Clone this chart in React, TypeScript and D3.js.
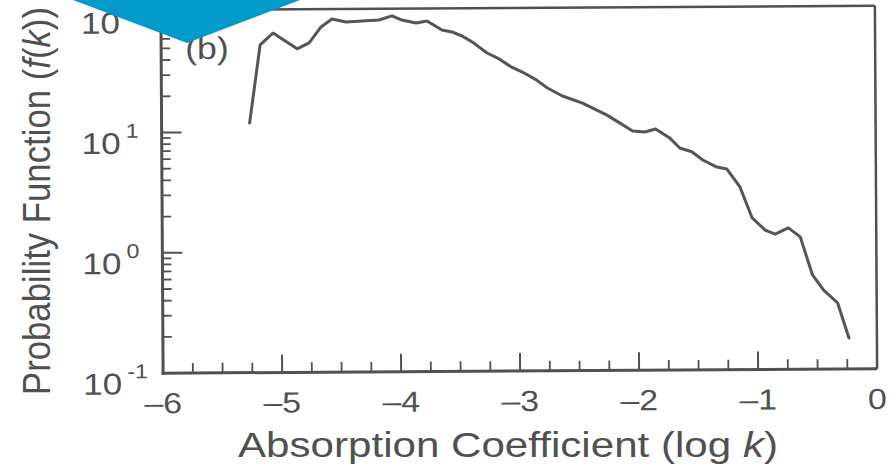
import React from "react";
import * as d3 from "d3";

const logK = [-5.26, -5.168, -5.059, -4.857, -4.756, -4.655, -4.563, -4.445, -4.168, -4.059, -3.975, -3.857, -3.765, -3.639, -3.555, -3.471, -3.387, -3.261, -3.16, -3.059, -2.966, -2.849, -2.756, -2.63, -2.462, -2.261, -2.151, -2.042, -1.941, -1.849, -1.731, -1.647, -1.546, -1.454, -1.336, -1.252, -1.143, -1.042, -0.933, -0.849, -0.739, -0.639, -0.538, -0.445, -0.328, -0.235];
const fk = [11.9, 52.8, 66.3, 48.8, 54.6, 74.0, 85.9, 81.1, 84.0, 90.6, 83.7, 78.9, 82.0, 68.9, 66.2, 61.2, 54.6, 44.1, 39.3, 33.7, 30.5, 26.2, 22.4, 19.2, 16.7, 13.3, 11.4, 9.75, 9.55, 10.1, 8.5, 7.0, 6.5, 5.55, 4.84, 4.65, 3.3, 1.82, 1.44, 1.33, 1.5, 1.26, 0.607, 0.454, 0.354, 0.181];

const xTicks = [-6, -5, -4, -3, -2, -1, 0];
const xTickLabels = ["–6", "–5", "–4", "–3", "–2", "–1", "0"];
const yTicks = [0.1, 1, 10, 100];
const yTickExps = ["-1", "0", "1", "2"];
const xTitle = "Absorption Coefficient (log ";
const yTitle = "Probability Function (";
const panelLabel = "(b)";

const W = 890;
const H = 468;
const INK = "#505050";
const FONT = "'Liberation Sans', Arial, Helvetica, sans-serif";

export default function App() {
  const x = d3.scaleLinear().domain([-6, 0]).range([162, 876]);
  const y = d3.scaleLog().domain([0.1, 100]).range([371, 10]);
  const top = 8;
  const left = x(-6);
  const right = x(0);
  const bottom = y(0.1);

  const pts = logK.map((k, i) => [k, fk[i]] as [number, number]);
  const line = d3
    .line<[number, number]>()
    .x((d) => x(d[0]))
    .y((d) => y(d[1]));

  const xMinor: number[] = [];
  for (let v = -6; v < 0; v += 0.25) {
    const r = Math.round(v * 100) / 100;
    if (Math.abs(r - Math.round(r)) > 1e-6) xMinor.push(r);
  }
  const yMinor: number[] = [];
  [0.1, 1, 10].forEach((dec) => {
    for (let m = 2; m <= 9; m++) yMinor.push(dec * m);
  });

  return (
    <svg
      width={W}
      height={H}
      style={{ position: "absolute", left: 0, top: 0, background: "#fff" }}
      fontFamily={FONT}
    >
      <rect x={0} y={0} width={W} height={H} fill="#fff" />
      <g transform="rotate(-0.35 520 190)">
        {/* frame */}
        <line x1={left} x2={right} y1={top} y2={top} stroke={INK} strokeWidth={2.5} />
        <line x1={right} x2={right} y1={top} y2={bottom} stroke={INK} strokeWidth={2.5} />
        <line x1={left} x2={left} y1={top - 1} y2={bottom + 1.5} stroke={INK} strokeWidth={3} />
        <line x1={left - 1.5} x2={right} y1={bottom} y2={bottom} stroke={INK} strokeWidth={3} />

        {/* x ticks */}
        {xTicks.slice(1, -1).map((v) => (
          <line key={"xM" + v} x1={x(v)} x2={x(v)} y1={bottom} y2={bottom - 18} stroke={INK} strokeWidth={2} />
        ))}
        {xMinor.map((v) => (
          <line key={"xm" + v} x1={x(v)} x2={x(v)} y1={bottom} y2={bottom - 10} stroke={INK} strokeWidth={1.8} />
        ))}
        {/* y ticks */}
        {yTicks.slice(1).map((v) => (
          <line key={"yM" + v} x1={left} x2={left + 20} y1={y(v)} y2={y(v)} stroke={INK} strokeWidth={2} />
        ))}
        {yMinor.map((v) => (
          <line key={"ym" + v} x1={left} x2={left + 9} y1={y(v)} y2={y(v)} stroke={INK} strokeWidth={1.8} />
        ))}

        {/* x tick labels */}
        {xTicks.map((v, i) => (
          <text
            key={"xl" + v}
            transform={`translate(${x(v)},411) scale(1.17,1)`}
            textAnchor="middle"
            fontSize={29}
            fill={INK}
          >
            {xTickLabels[i]}
          </text>
        ))}

        {/* y tick labels */}
        {yTicks.map((v, i) => (
          <g key={"yl" + v}>
            <text transform={`translate(121,${y(v) + 21}) scale(1.17,1)`} textAnchor="end" fontSize={30} fill={INK}>
              10
            </text>
            <text transform={`translate(126,${y(v) + 5}) scale(1.17,1)`} textAnchor="start" fontSize={20} fill={INK}>
              {yTickExps[i]}
            </text>
          </g>
        ))}

        {/* curve */}
        <path d={line(pts) || ""} fill="none" stroke="#555" strokeWidth={3} strokeLinejoin="round" strokeLinecap="round" />

        {/* panel label */}
        <text transform="translate(186,57) scale(1.15,1)" fontSize={31} fill={INK}>
          {panelLabel}
        </text>
      </g>

      {/* axis titles */}
      <text
        x={508}
        y={457}
        textAnchor="middle"
        fontSize={35}
        fill={INK}
        textLength={540}
        lengthAdjust="spacingAndGlyphs"
      >
        {xTitle}
        <tspan fontStyle="italic">k</tspan>)
      </text>
      <text
        transform="translate(50,395) rotate(-90) scale(1,1.15)"
        fontSize={34}
        fill={INK}
        textLength={388}
        lengthAdjust="spacingAndGlyphs"
      >
        {yTitle}
        <tspan fontStyle="italic">f</tspan>(<tspan fontStyle="italic">k</tspan>))
      </text>

      {/* blue banner shape */}
      <polygon points="73,0 300,0 187,43" fill="#0399CB" />
    </svg>
  );
}
